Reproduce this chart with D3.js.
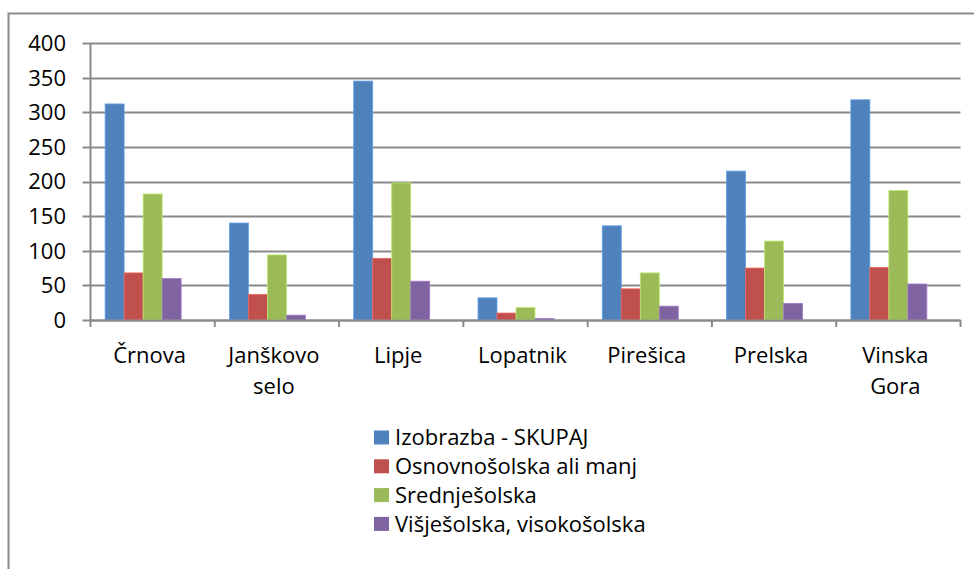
<!DOCTYPE html>
<html>
<head>
<meta charset="utf-8">
<script src="https://cdn.jsdelivr.net/npm/d3@7"></script>
<style>
  body { margin: 0; background: #fff; }
  svg { display: block; font-family: "Open Sans", sans-serif; }
</style>
</head>
<body>
<div id="chart"></div>
<script>
// Kategorije (naselja)
const categories = ["Črnova", "Janškovo selo", "Lipje", "Lopatnik", "Pirešica", "Prelska", "Vinska Gora"];

// Serije
const seriesNames = ["Izobrazba - SKUPAJ", "Osnovnošolska ali manj", "Srednješolska", "Višješolska, visokošolska"];
const skupaj = [312, 140, 345, 32, 136, 215, 318];
const osnovna = [68, 37, 89, 10, 45, 75, 76];
const srednja = [182, 94, 198, 18, 68, 114, 187];
const visja = [60, 7, 56, 2, 20, 24, 52];
const yTicks = [0, 50, 100, 150, 200, 250, 300, 350, 400];

const colors = ["#4F81BD", "#C0504D", "#9BBB59", "#8064A2"];
const values = [skupaj, osnovna, srednja, visja];

const width = 974, height = 569;
const plotLeft = 90.5, plotRight = 960.5, plotTop = 43, plotBottom = 320;

const svg = d3.select("#chart").append("svg")
    .attr("width", width)
    .attr("height", height);

// Okvir grafikona (desni in spodnji rob sta odrezana)
svg.append("rect")
    .attr("x", 8.5).attr("y", 13.5)
    .attr("width", 980).attr("height", 580)
    .attr("fill", "none")
    .attr("stroke", "#8c8c8c")
    .attr("stroke-width", 2);

const x = d3.scaleBand()
    .domain(categories)
    .range([plotLeft, plotRight])
    .paddingInner(0).paddingOuter(0);

// 5 mest v skupini, zadnje je prazno (kot v izvirniku)
const inner = d3.scaleBand()
    .domain([0, 1, 2, 3, 4])
    .range([0, x.bandwidth()])
    .paddingOuter(0.77).paddingInner(0);

const y = d3.scaleLinear()
    .domain([0, 400])
    .range([plotBottom, plotTop]);

// Mreža
svg.append("g")
    .selectAll("line")
    .data(yTicks)
    .enter().append("line")
    .attr("x1", plotLeft - 8).attr("x2", plotRight)
    .attr("y1", d => Math.round(y(d)) + 0.5)
    .attr("y2", d => Math.round(y(d)) + 0.5)
    .attr("stroke", "#8a8a8a")
    .attr("stroke-width", 2);

// Oznake osi y
svg.append("g")
    .selectAll("text")
    .data(yTicks)
    .enter().append("text")
    .attr("x", 66)
    .attr("y", d => y(d))
    .attr("dy", "0.36em")
    .attr("text-anchor", "end")
    .attr("font-size", "22px")
    .attr("fill", "#000")
    .text(d => d);

// Stolpci
values.forEach((vals, s) => {
    svg.append("g")
        .selectAll("rect")
        .data(categories)
        .enter().append("rect")
        .attr("x", c => x(c) + inner(s))
        .attr("y", (c, i) => y(vals[i]))
        .attr("width", inner.bandwidth())
        .attr("height", (c, i) => y(0) - y(vals[i]))
        .attr("fill", colors[s])
        .attr("stroke", d3.color(colors[s]).brighter(0.6))
        .attr("stroke-width", 0.8);
});

// Os x
svg.append("line")
    .attr("x1", plotLeft).attr("x2", plotRight)
    .attr("y1", plotBottom + 0.5).attr("y2", plotBottom + 0.5)
    .attr("stroke", "#8a8a8a").attr("stroke-width", 2);

// Os y
svg.append("line")
    .attr("x1", plotLeft).attr("x2", plotLeft)
    .attr("y1", plotTop).attr("y2", plotBottom + 1)
    .attr("stroke", "#8a8a8a").attr("stroke-width", 2);

// Kljukice na osi x
svg.append("g")
    .selectAll("line")
    .data(categories.concat([null]))
    .enter().append("line")
    .attr("x1", (d, i) => plotLeft + i * x.bandwidth())
    .attr("x2", (d, i) => plotLeft + i * x.bandwidth())
    .attr("y1", plotBottom).attr("y2", plotBottom + 7)
    .attr("stroke", "#8a8a8a").attr("stroke-width", 2);

// Oznake kategorij
svg.append("g")
    .selectAll("text")
    .data(categories)
    .enter().append("text")
    .attr("x", c => x(c) + x.bandwidth() / 2 - 3)
    .attr("y", 363)
    .attr("text-anchor", "middle")
    .attr("font-size", "22px")
    .attr("fill", "#000")
    .each(function (c) {
        const words = c.split(" ");
        d3.select(this).selectAll("tspan")
            .data(words)
            .enter().append("tspan")
            .attr("x", x(c) + x.bandwidth() / 2 - 3)
            .attr("dy", (w, i) => i === 0 ? 0 : 31)
            .text(w => w);
    });

// Legenda
const legend = svg.append("g")
    .selectAll("g")
    .data(seriesNames)
    .enter().append("g")
    .attr("transform", (d, i) => `translate(374, ${430.5 + i * 28.8})`);

legend.append("rect")
    .attr("width", 15).attr("height", 14)
    .attr("fill", (d, i) => colors[i]);

legend.append("text")
    .attr("x", 21)
    .attr("y", 7)
    .attr("dy", "0.36em")
    .attr("font-size", "22px")
    .attr("fill", "#000")
    .text(d => d);
</script>
</body>
</html>
